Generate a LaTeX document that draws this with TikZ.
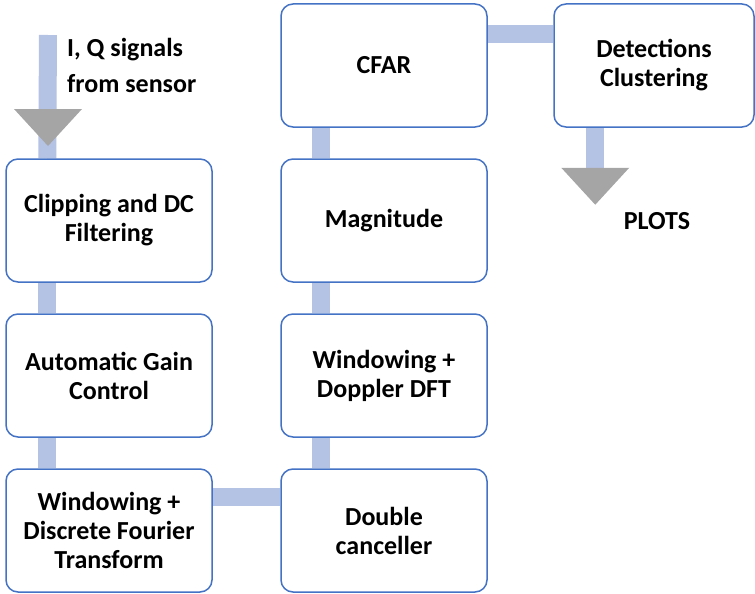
\documentclass[tikz,border=0pt]{standalone}
\usepackage{fontspec}
\setmainfont{Carlito}
\usetikzlibrary{calc}
\definecolor{boxblue}{RGB}{68,114,196}
\definecolor{linkblue}{RGB}{180,194,228}
\definecolor{tipgray}{RGB}{165,165,165}
\pgfdeclarelayer{bg}
\pgfsetlayers{bg,main}
\tikzset{
	stage/.style={draw=boxblue, line width=1.5pt, fill=white, rounded corners=12pt, minimum width=206pt, minimum height=123pt, inner sep=0pt, align=center, font=\bfseries\fontsize{26}{29}\selectfont},
	link/.style={color=linkblue, line width=18pt},
	tip/.style={fill=tipgray},
	label/.style={inner sep=0pt, font=\bfseries\fontsize{26}{36}\selectfont}
}

\begin{document}
\begin{tikzpicture}[x=1pt, y=-1pt]
			%%%%% START %%%%%
			\useasboundingbox (0, 0) rectangle (755, 594);
			
			\node[stage] (clip) at (109, 220.5) {Clipping and DC\\Filtering};
			\node[stage] (agc) at (109, 375.5) {Automatic Gain\\Control};
			\node[stage] (dft) at (109, 530.5) {Windowing +\\Discrete Fourier\\Transform};
			
			\node[stage] (dc) at (384, 530.5) {Double\\canceller};
			\node[stage] (doppler) at (384, 375.5) {Windowing +\\Doppler DFT};
			\node[stage] (mag) at (384, 220.5) {Magnitude};
			\node[stage] (cfar) at (384, 65.5) {CFAR};
			
			\node[stage, minimum width=200pt] (det) at (654, 65.5) {Detections\\Clustering};
			
			\node[label, anchor=west, align=left] (src) at (67, 65) {I, Q signals\\from sensor};
			\node[label] (plots) at (657, 221) {PLOTS};
			
			\coordinate (in) at (48, 35);
			\coordinate (intip) at (48, 146);
			\coordinate (outtip) at ($(det.south west)+(42, 77)$);
			
			\begin{pgfonlayer}{bg}
				\draw[link] (in) -- ($(clip.north west)+(42, 0)$);
				\draw[link] ($(clip.south west)+(42, 0)$) -- ($(agc.north west)+(42, 0)$);
				\draw[link] ($(agc.south west)+(42, 0)$) -- ($(dft.north west)+(42, 0)$);
				\draw[link] ($(dft.north east)+(0, 29)$) -- ($(dc.north west)+(0, 29)$);
				\draw[link] ($(dc.north west)+(41, 0)$) -- ($(doppler.south west)+(41, 0)$);
				\draw[link] ($(doppler.north west)+(41, 0)$) -- ($(mag.south west)+(41, 0)$);
				\draw[link] ($(mag.north west)+(41, 0)$) -- ($(cfar.south west)+(41, 0)$);
				\draw[link] ($(cfar.north east)+(0, 31)$) -- ($(det.north west)+(0, 31)$);
				\draw[link] ($(det.south west)+(42, 0)$) -- ($(outtip)+(0, -36)$);
			\end{pgfonlayer}
			
			\fill[tip] (intip) -- ++(-34, -37) -- ++(68, 0) -- cycle;
			\fill[tip] (outtip) -- ++(-34, -37) -- ++(68, 0) -- cycle;
			
			%%%%% END %%%%%
\end{tikzpicture}
\end{document}
